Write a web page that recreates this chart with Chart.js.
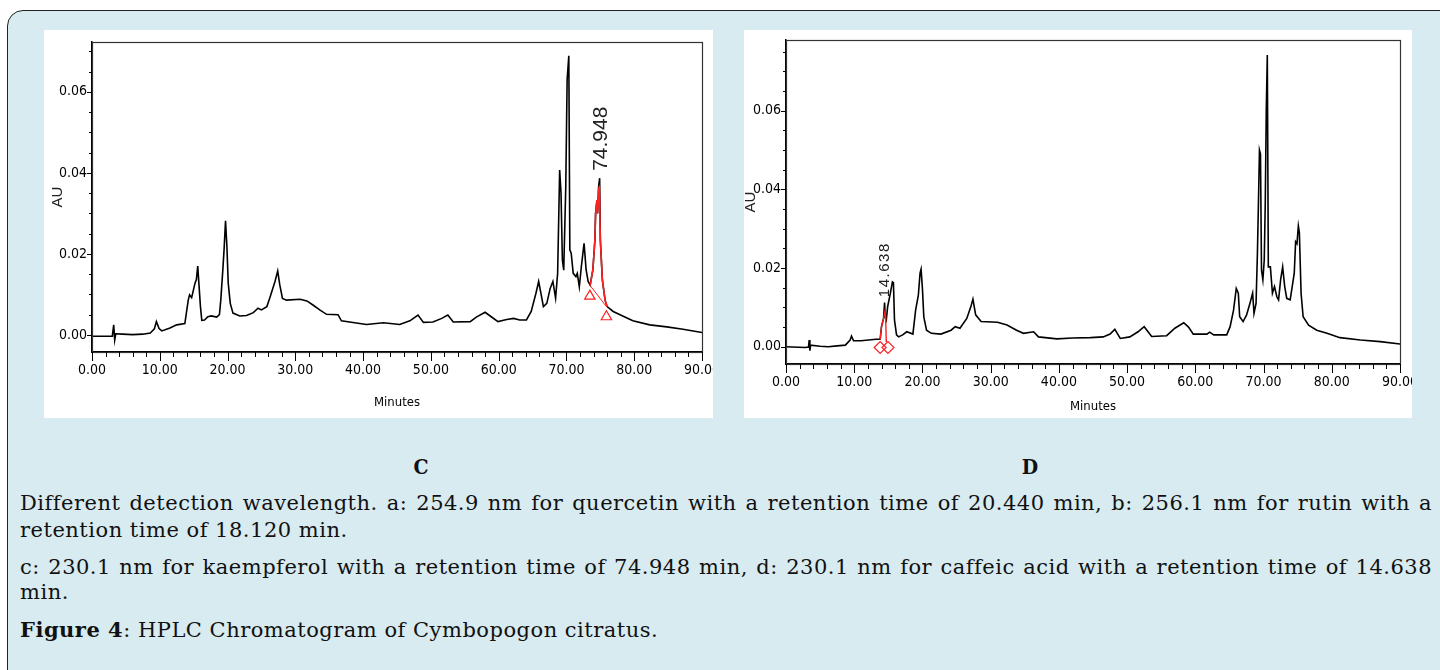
<!DOCTYPE html>
<html>
<head>
<meta charset="utf-8">
<script src="https://cdn.jsdelivr.net/npm/chart.js@4.4.1/dist/chart.umd.min.js"></script>
<style>
  html, body { margin: 0; padding: 0; background: #fff; }
  body { width: 1440px; height: 670px; position: relative; overflow: hidden; }
  .frame { position: absolute; left: 7px; top: 10px; width: 1460px; height: 680px; background: #d8ebf0; border: 1.5px solid #222; border-radius: 16px; }
  .panel { position: absolute; top: 30px; height: 388px; background: #fff; overflow: hidden; }
  #panelC { left: 44px; width: 669px; }
  #panelD { left: 744px; width: 668px; }
  .tag { position: absolute; top: 454px; font: bold 21px 'DejaVu Serif', serif; font-stretch: condensed; transform: translateX(-50%); color: #111; }
  .cap { position: absolute; left: 20px; width: 1412px; font-family: 'DejaVu Serif', serif; font-size: 21px; letter-spacing: 0.5px; line-height: 24px; white-space: nowrap; color: #111; }
  .just { text-align: justify; text-align-last: justify; }
</style>
</head>
<body>
<div class="frame"></div>
<div class="panel" id="panelC"><canvas id="chartC" width="700" height="388"></canvas></div>
<div class="panel" id="panelD"><canvas id="chartD" width="700" height="388"></canvas></div>
<div class="tag" style="left:421px">C</div>
<div class="tag" style="left:1030px">D</div>
<div class="cap just" style="top:491px">Different detection wavelength. a: 254.9 nm for quercetin with a retention time of 20.440 min, b: 256.1 nm for rutin with a</div>
<div class="cap" style="top:518px">retention time of 18.120 min.</div>
<div class="cap just" style="top:555px">c: 230.1 nm for kaempferol with a retention time of 74.948 min, d: 230.1 nm for caffeic acid with a retention time of 14.638</div>
<div class="cap" style="top:580px">min.</div>
<div class="cap" style="top:618px"><b>Figure 4</b>: HPLC Chromatogram of Cymbopogon citratus.</div>

<script>
// chromatogram C (230.1 nm, kaempferol)
const timesC = [0, 1.5, 3.0, 3.2, 3.35, 3.5, 4.5, 6, 7.5, 8.6, 9.2, 9.5, 9.9, 10.3, 11.5, 12.5, 13.7,
  14.2, 14.4, 14.7, 15.2, 15.4, 15.6, 15.8, 16.0, 16.2, 16.6, 17.1, 17.6, 18.4, 18.8, 19.0, 19.3, 19.5,
  19.7, 19.9, 20.1, 20.4, 20.8, 21.8, 22.8, 23.8, 24.5, 25.0, 25.8, 26.3, 27.0, 27.4, 27.7, 28.1, 28.7,
  30.7, 31.7, 32.6, 33.6, 34.6, 36.3, 36.8, 38.5, 40.5, 43.0, 45.4, 46.9, 48.1, 48.9, 50.3, 51.6, 52.5,
  53.3, 55.8, 56.7, 58.0, 58.9, 59.9, 61.2, 62.2, 63.1, 64.1, 64.8, 65.5, 65.9, 66.3, 66.6, 67.1, 67.6,
  68.0, 68.4, 68.7, 69.0, 69.2, 69.4, 69.6, 69.9, 70.1, 70.35, 70.5, 70.7, 71.0, 71.4, 71.6, 71.9, 72.2,
  72.6, 72.9, 73.2, 73.5, 73.9, 74.2, 74.3, 74.5, 74.6, 74.75, 74.9, 75.0, 75.3, 75.7, 76.0, 76.9, 78.3,
  79.8, 82.3, 84.8, 87.2, 90.0];
const auC = [-0.0003, -0.0003, -0.0003, 0.0025, -0.0012, 0.0003, 0.0002, 0.0001, 0.0002, 0.0005, 0.0015,
  0.0033, 0.0016, 0.0010, 0.0017, 0.0025, 0.0028, 0.0086, 0.0099, 0.0092, 0.0128, 0.0137, 0.0170, 0.0120,
  0.0070, 0.0036, 0.0037, 0.0045, 0.0047, 0.0044, 0.0050, 0.0086, 0.0160, 0.0215, 0.0282, 0.0220, 0.0128,
  0.0078, 0.0054, 0.0047, 0.0048, 0.0055, 0.0066, 0.0062, 0.0070, 0.0095, 0.0132, 0.0158, 0.0124, 0.0090,
  0.0086, 0.0088, 0.0084, 0.0074, 0.0062, 0.0051, 0.0050, 0.0035, 0.0031, 0.0026, 0.0030, 0.0026, 0.0035,
  0.0049, 0.0031, 0.0032, 0.0041, 0.0049, 0.0032, 0.0033, 0.0044, 0.0056, 0.0045, 0.0033, 0.0038, 0.0041,
  0.0037, 0.0037, 0.0058, 0.0103, 0.0132, 0.0097, 0.0070, 0.0078, 0.0115, 0.0132, 0.0091, 0.0152, 0.0407,
  0.0350, 0.0185, 0.0160, 0.0366, 0.0630, 0.0689, 0.0210, 0.0202, 0.0152, 0.0144, 0.0152, 0.0119, 0.0169,
  0.0226, 0.0161, 0.0132, 0.0123, 0.0161, 0.0235, 0.0300, 0.0333, 0.0300, 0.0366, 0.0387, 0.0235, 0.0136,
  0.0086, 0.0070, 0.0058, 0.0047, 0.0035, 0.0025, 0.0020, 0.0014, 0.0006];
// integrated peak at 74.948 (red)
const peakTimesC = [73.5, 73.9, 74.2, 74.3, 74.5, 74.6, 74.75, 74.85, 75.0, 75.3, 75.7, 76.0];
const peakAuC = [0.0123, 0.0161, 0.0235, 0.0300, 0.0333, 0.0300, 0.0362, 0.0365, 0.0235, 0.0136, 0.0086, 0.0070];
const baseTimesC = [73.45, 75.9];
const baseAuC = [0.0123, 0.0070];
const markTimesC = [73.45, 75.9];
const markAuC = [0.0096, 0.0045];

// chromatogram D (230.1 nm, caffeic acid)
const timesD = [0, 2.8, 3.3, 3.4, 3.5, 3.6, 5.0, 6.2, 7.5, 8.7, 9.4, 9.6, 9.9, 11.0, 13.2, 13.8, 14.0, 14.3,
  14.45, 14.55, 14.7, 14.9, 15.3, 15.6, 15.75, 15.9, 16.2, 16.5, 17.1, 17.7, 18.6, 19.0, 19.4, 19.65, 19.8,
  20.0, 20.2, 20.6, 21.3, 22.7, 24.2, 24.8, 25.5, 26.5, 27.1, 27.4, 27.8, 28.6, 31.0, 32.4, 33.8, 34.8,
  36.3, 37.0, 39.7, 42.0, 44.6, 46.5, 47.5, 48.2, 49.0, 50.4, 51.6, 52.5, 53.6, 55.8, 57.0, 58.3, 59.0,
  59.7, 61.7, 62.1, 62.7, 64.6, 65.1, 65.6, 66.0, 66.3, 66.5, 67.0, 67.5, 68.0, 68.4, 68.6, 68.9, 69.1,
  69.25, 69.4, 69.55, 69.7, 69.9, 70.1, 70.25, 70.4, 70.55, 70.7, 71.0, 71.3, 71.6, 71.95, 72.2, 72.5,
  72.8, 73.1, 73.4, 73.9, 74.2, 74.5, 74.7, 74.9, 75.1, 75.25, 75.5, 75.8, 76.6, 77.8, 79.3, 81.2, 84.2,
  87.1, 90.0];
const auD = [0.0, -0.0002, -0.0001, 0.0017, -0.0010, 0.0004, 0.0001, 0.0, 0.0002, 0.0004, 0.0017, 0.0027,
  0.0015, 0.0015, 0.0019, 0.0019, 0.0051, 0.0072, 0.0112, 0.0075, 0.0068, 0.0102, 0.0136, 0.0165, 0.0163,
  0.0068, 0.0030, 0.0025, 0.0030, 0.0038, 0.0032, 0.0093, 0.0131, 0.0187, 0.0197, 0.0147, 0.0076, 0.0042,
  0.0034, 0.0032, 0.0042, 0.0051, 0.0047, 0.0072, 0.0102, 0.0121, 0.0081, 0.0064, 0.0062, 0.0055, 0.0042,
  0.0034, 0.0038, 0.0025, 0.0020, 0.0022, 0.0023, 0.0025, 0.0032, 0.0044, 0.0021, 0.0025, 0.0038, 0.0051,
  0.0026, 0.0028, 0.0047, 0.0061, 0.0050, 0.0032, 0.0032, 0.0037, 0.0030, 0.0030, 0.0051, 0.0093, 0.0148,
  0.0136, 0.0076, 0.0064, 0.0080, 0.0110, 0.0136, 0.0085, 0.0110, 0.0237, 0.0365, 0.0500, 0.0490, 0.0195,
  0.0170, 0.0220, 0.0365, 0.0602, 0.0742, 0.0203, 0.0203, 0.0136, 0.0153, 0.0127, 0.0119, 0.0170, 0.0203,
  0.0153, 0.0123, 0.0119, 0.0153, 0.0187, 0.0267, 0.0262, 0.0307, 0.0290, 0.0136, 0.0076, 0.0055, 0.0042,
  0.0034, 0.0023, 0.0017, 0.0013, 0.0007];
// integrated peak at 14.638 (red)
const peakTimesD = [13.8, 14.0, 14.3, 14.5, 14.6, 14.7];
const peakAuD = [0.0018, 0.0051, 0.0072, 0.0089, 0.0078, 0.0012];
const markTimesD = [13.8, 14.95];
const markAuD = [-0.0002, -0.0002];

const xTickLabels = ['0.00', '10.00', '20.00', '30.00', '40.00', '50.00', '60.00', '70.00', '80.00', '90.00'];
const yTickLabels = ['0.00', '0.02', '0.04', '0.06'];

const pts = (xs, ys) => xs.map((t, i) => ({ x: t, y: ys[i] }));
const tickFont = { family: "'DejaVu Sans Condensed', 'Liberation Sans Narrow', sans-serif", size: 14 };
const isMult = (v, step) => Math.abs(v / step - Math.round(v / step)) < 1e-6;

// frame round the plot + long/short tick marks
const axisTicks = {
  id: 'axisTicks',
  afterDraw(chart) {
    const { ctx, chartArea: a, scales: { x, y } } = chart;
    ctx.save();
    ctx.strokeStyle = '#333';
    ctx.lineWidth = 1.2;
    ctx.strokeRect(a.left + 0.5, a.top + 0.5, a.right - a.left, a.bottom - a.top);
    ctx.strokeStyle = '#000';
    ctx.lineWidth = 1;
    x.ticks.forEach(t => {
      const px = Math.round(x.getPixelForValue(t.value)) + 0.5;
      const len = isMult(t.value, 10) ? 9 : 5;
      ctx.beginPath(); ctx.moveTo(px, a.bottom); ctx.lineTo(px, a.bottom + len); ctx.stroke();
    });
    y.ticks.forEach(t => {
      const py = Math.round(y.getPixelForValue(t.value)) + 0.5;
      const len = isMult(t.value, 0.02) ? 5 : 3;
      ctx.beginPath(); ctx.moveTo(a.left - len, py); ctx.lineTo(a.left, py); ctx.stroke();
    });
    ctx.restore();
  }
};

// rotated retention-time label above a peak
const peakLabels = {
  id: 'peakLabels',
  afterDatasetsDraw(chart, args, opts) {
    const { ctx, scales: { x, y } } = chart;
    (opts.items || []).forEach(it => {
      ctx.save();
      ctx.translate(x.getPixelForValue(it.time), y.getPixelForValue(it.au));
      ctx.rotate(-Math.PI / 2);
      ctx.font = it.font;
      if ('letterSpacing' in ctx) ctx.letterSpacing = it.spacing || '0px';
      ctx.fillStyle = '#222';
      ctx.textAlign = 'left';
      ctx.textBaseline = 'middle';
      ctx.fillText(it.text, 0, 0);
      ctx.restore();
    });
  }
};

function makeChart(id, cfg) {
  const ctx = document.getElementById(id).getContext('2d');
  return new Chart(ctx, {
    type: 'line',
    data: { datasets: cfg.datasets },
    options: {
      responsive: false,
      animation: false,
      devicePixelRatio: 1,
      layout: { padding: cfg.padding },
      elements: { point: { radius: 0 }, line: { tension: 0 } },
      scales: {
        x: {
          type: 'linear', min: 0, max: 90,
          border: { display: true, color: '#000', width: 1.5 },
          grid: { display: false, drawTicks: true, tickLength: 9 },
          ticks: {
            stepSize: 2, autoSkip: false, maxRotation: 0, includeBounds: false,
            color: '#000', font: tickFont, padding: 1,
            callback: v => isMult(v, 10) ? xTickLabels[Math.round(v / 10)] : ''
          },
          title: { display: true, text: 'Minutes', color: '#000', font: { family: tickFont.family, size: 13 }, padding: { top: 0, bottom: cfg.titlePad } },
          afterFit: s => { s.height = cfg.xHeight; }
        },
        y: {
          type: 'linear', min: cfg.yMin, max: cfg.yMax,
          border: { display: true, color: '#000', width: 1.5 },
          grid: { display: false, drawTicks: true, tickLength: 5 },
          ticks: {
            stepSize: 0.005, includeBounds: false, color: '#000', font: tickFont, padding: 0,
            callback: v => isMult(v, 0.02) ? yTickLabels[Math.round(v / 0.02)] : ''
          },
          title: { display: true, text: 'AU', color: '#222', font: { family: "'Liberation Sans', Arial, sans-serif", size: 15 }, padding: { top: cfg.auPad, bottom: 0 } },
          afterFit: s => { s.width = cfg.yWidth; }
        }
      },
      plugins: {
        legend: { display: false },
        tooltip: { enabled: false },
        peakLabels: { items: cfg.labels }
      }
    },
    plugins: [axisTicks, peakLabels]
  });
}

makeChart('chartC', {
  padding: { top: 12, right: 42, left: 5, bottom: 0 },
  xHeight: 66, yWidth: 43, titlePad: 8, auPad: 0,
  yMin: -0.0042, yMax: 0.0723,
  labels: [{ time: 75.2, au: 0.0405, text: '74.948', font: "21px 'Liberation Sans', Arial, sans-serif" }],
  datasets: [
    { data: pts(peakTimesC, peakAuC), borderColor: '#ff2020', borderWidth: 1.6, order: 0 },
    { data: pts(baseTimesC, baseAuC), borderColor: '#ff2020', borderWidth: 1, order: 0 },
    { data: pts(markTimesC, markAuC), showLine: false, pointStyle: 'triangle', pointRadius: 6, order: 0,
      pointBorderColor: '#ff2020', pointBackgroundColor: 'rgba(0,0,0,0)', pointBorderWidth: 1.2 },
    { data: pts(timesC, auC), borderColor: '#000', borderWidth: 1.6, order: 1 }
  ]
});

makeChart('chartD', {
  padding: { top: 10, right: 44, left: 0, bottom: 0 },
  xHeight: 54, yWidth: 42, titlePad: 4, auPad: -2,
  yMin: -0.0044, yMax: 0.078,
  labels: [{ time: 14.5, au: 0.0126, text: '14.638', font: "15px 'Liberation Sans', Arial, sans-serif", spacing: '1.5px' }],
  datasets: [
    { data: pts(peakTimesD, peakAuD), borderColor: '#ff2020', borderWidth: 1.4, order: 0 },
    { data: pts(markTimesD, markAuD), showLine: false, pointStyle: 'rectRot', pointRadius: 6, order: 0,
      pointBorderColor: '#ff2020', pointBackgroundColor: 'rgba(0,0,0,0)', pointBorderWidth: 1.2 },
    { data: pts(timesD, auD), borderColor: '#000', borderWidth: 1.6, order: 1 }
  ]
});
</script>
</body>
</html>
